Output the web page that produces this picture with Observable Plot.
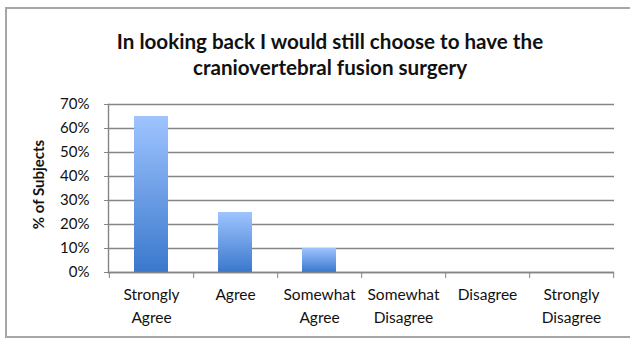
<!DOCTYPE html>
<html>
<head>
<meta charset="utf-8">
<script src="https://cdn.jsdelivr.net/npm/d3@7"></script>
<script src="https://cdn.jsdelivr.net/npm/@observablehq/plot@0.6"></script>
<style>
  html, body { margin: 0; padding: 0; background: #fff; }
  #wrap { position: relative; width: 630px; height: 339px; overflow: hidden; background: #fff; }
  #frame { position: absolute; left: 5px; top: 7px; width: 640px; height: 331px; border: 2px solid #a6a6a6; box-sizing: border-box; }
  #title { position: relative; height: 96px; box-sizing: border-box; padding-top: 28px; padding-left: 30px; text-align: center;
           font-family: Lato, "Open Sans", sans-serif; font-weight: bold; font-size: 20.6px; line-height: 26px; color: #111; }
  #chart { position: relative; }
</style>
</head>
<body>
<div id="wrap">
  <div id="frame"></div>
  <div id="title">In looking back I would still choose to have the<br>craniovertebral fusion surgery</div>
  <div id="chart"></div>
</div>
<script>
const categories = ["Strongly Agree", "Agree", "Somewhat Agree", "Somewhat Disagree", "Disagree", "Strongly Disagree"];
const labels = ["Strongly\nAgree", "Agree", "Somewhat\nAgree", "Somewhat\nDisagree", "Disagree", "Strongly\nDisagree"];
const values = [0.65, 0.25, 0.10, 0, 0, 0];
const yTicks = [0, 0.1, 0.2, 0.3, 0.4, 0.5, 0.6, 0.7];
const yLabel = "% of Subjects";

const data = categories.map((c, i) => ({category: c, label: labels[i], value: values[i]}));

const W = 630, H = 243, mL = 108, mR = 16, mT = 8, mB = 67;
const step = (W - mL - mR) / categories.length;
const font = "Lato, 'Open Sans', sans-serif";
const gridColor = "#858585";

const chart = Plot.plot({
  width: W, height: H,
  marginLeft: mL, marginRight: mR, marginTop: mT, marginBottom: mB,
  style: {fontFamily: font, fontSize: "15px", color: "#111", background: "transparent", overflow: "visible"},
  x: {domain: categories, paddingInner: 0.6, paddingOuter: 0.3, axis: null},
  y: {domain: [0, 0.7], axis: null},
  marks: [
    Plot.gridY(yTicks, {stroke: gridColor, strokeOpacity: 1, strokeWidth: 1.4}),
    Plot.barY(data, {x: "category", y: "value", fill: "url(#barGrad)", style: "filter: drop-shadow(0px 1px 1px rgba(0,0,0,0.25))"}),
    Plot.axisY(yTicks, {tickFormat: d3.format(".0%"), tickSize: 4, tickPadding: 15, stroke: gridColor, fontSize: 15, label: null}),
    Plot.frame({anchor: "left", stroke: gridColor, strokeWidth: 1.4}),
    Plot.ruleY([0], {stroke: gridColor, strokeWidth: 1.4}),
    Plot.axisX(categories, {tickFormat: () => "", tickSize: 6, dx: step / 2, stroke: gridColor, label: null}),
    Plot.axisX([categories[0]], {tickFormat: () => "", tickSize: 6, dx: -step / 2, stroke: gridColor, label: null}),
    Plot.text(data, {x: "category", text: "label", frameAnchor: "bottom", dy: 12, lineAnchor: "top", lineHeight: 1.45, fontSize: 15.5, fill: "#111"}),
    Plot.text([yLabel], {frameAnchor: "left", textAnchor: "middle", rotate: -90, dx: -69, dy: -4, fontWeight: "bold", fontSize: 15, fill: "#111"})
  ]
});

const svg = d3.select(chart);
const defs = svg.insert("defs", ":first-child");
const g = defs.append("linearGradient").attr("id", "barGrad").attr("x1", 0).attr("y1", 0).attr("x2", 0).attr("y2", 1);
g.append("stop").attr("offset", "0%").attr("stop-color", "#9fc4ff");
g.append("stop").attr("offset", "100%").attr("stop-color", "#3a78cc");

document.getElementById("chart").appendChild(chart);
</script>
</body>
</html>
